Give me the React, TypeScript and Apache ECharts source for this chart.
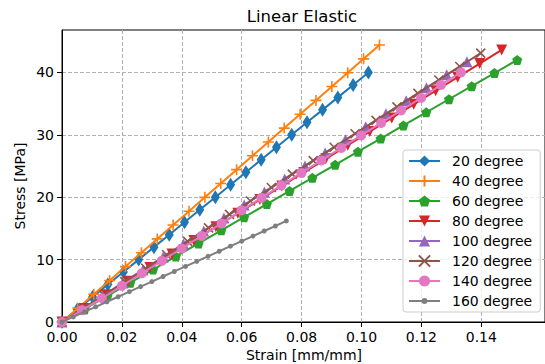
import React, { useEffect, useRef } from "react";
import * as echarts from "echarts";

const seriesNames = ["20 degree", "40 degree", "60 degree", "80 degree", "100 degree", "120 degree", "140 degree", "160 degree"];
const colors = ["#1f77b4", "#ff7f0e", "#2ca02c", "#d62728", "#9467bd", "#8c564b", "#e377c2", "#7f7f7f"];

const strain20 = [0, 0.0051, 0.0102, 0.0153, 0.0205, 0.0256, 0.0307, 0.0358, 0.0409, 0.046, 0.0512, 0.0563, 0.0614, 0.0665, 0.0716, 0.0767, 0.0818, 0.087, 0.0921, 0.0972, 0.1023];
const stress20 = [0, 2, 4, 6, 8, 10, 12, 14, 16, 18, 20, 22, 24, 26, 28, 30, 32, 34, 36, 38, 40];

const strain40 = [0, 0.0053, 0.0106, 0.0159, 0.0212, 0.0265, 0.0318, 0.0371, 0.0424, 0.0477, 0.053, 0.0583, 0.0636, 0.0689, 0.0742, 0.0795, 0.0848, 0.0901, 0.0954, 0.1007, 0.106];
const stress40 = [0, 2.22, 4.44, 6.66, 8.88, 11.1, 13.32, 15.54, 17.76, 19.98, 22.2, 24.42, 26.64, 28.86, 31.08, 33.3, 35.52, 37.74, 39.96, 42.18, 44.4];

const strain60 = [0, 0.0076, 0.0152, 0.0228, 0.0304, 0.038, 0.0456, 0.0532, 0.0608, 0.0684, 0.076, 0.0836, 0.0912, 0.0988, 0.1064, 0.114, 0.1216, 0.1292, 0.1368, 0.1444, 0.152];
const stress60 = [0, 2.1, 4.2, 6.3, 8.4, 10.5, 12.6, 14.7, 16.8, 18.9, 21, 23.1, 25.2, 27.3, 29.4, 31.5, 33.6, 35.7, 37.8, 39.9, 42];

const strain80 = [0, 0.00734, 0.01468, 0.02202, 0.02936, 0.0367, 0.04404, 0.05138, 0.05872, 0.06606, 0.0734, 0.08074, 0.08808, 0.09542, 0.10276, 0.1101, 0.11744, 0.12478, 0.13212, 0.13946, 0.1468];
const stress80 = [0, 2.18, 4.36, 6.54, 8.72, 10.9, 13.08, 15.26, 17.44, 19.62, 21.8, 23.98, 26.16, 28.34, 30.52, 32.7, 34.88, 37.06, 39.24, 41.42, 43.6];

const strain100 = [0, 0.00676, 0.01352, 0.02028, 0.02704, 0.0338, 0.04056, 0.04732, 0.05408, 0.06084, 0.0676, 0.07436, 0.08112, 0.08788, 0.09464, 0.1014, 0.10816, 0.11492, 0.12168, 0.12844, 0.1352];
const stress100 = [0, 2.085, 4.17, 6.255, 8.34, 10.425, 12.51, 14.595, 16.68, 18.765, 20.85, 22.935, 25.02, 27.105, 29.19, 31.275, 33.36, 35.445, 37.53, 39.615, 41.7];

const strain120 = [0, 0.00699, 0.01398, 0.02097, 0.02796, 0.03495, 0.04194, 0.04893, 0.05592, 0.06291, 0.0699, 0.07689, 0.08388, 0.09087, 0.09786, 0.10485, 0.11184, 0.11883, 0.12582, 0.13281, 0.1398];
const stress120 = [0, 2.155, 4.31, 6.465, 8.62, 10.775, 12.93, 15.085, 17.24, 19.395, 21.55, 23.705, 25.86, 28.015, 30.17, 32.325, 34.48, 36.635, 38.79, 40.945, 43.1];

const strain140 = [0, 0.00666, 0.01332, 0.01998, 0.02664, 0.0333, 0.03996, 0.04662, 0.05328, 0.05994, 0.0666, 0.07326, 0.07992, 0.08658, 0.09324, 0.0999, 0.10656, 0.11322, 0.11988, 0.12654, 0.1332];
const stress140 = [0, 1.9, 3.8, 5.8, 7.8, 9.8, 11.8, 13.8, 15.8, 17.9, 19.9, 21.9, 23.9, 25.9, 27.9, 29.9, 31.9, 33.9, 35.9, 38, 40];

const strain160 = [0, 0.00375, 0.0075, 0.01125, 0.015, 0.01875, 0.0225, 0.02625, 0.03, 0.03375, 0.0375, 0.04125, 0.045, 0.04875, 0.0525, 0.05625, 0.06, 0.06375, 0.0675, 0.07125, 0.0749];
const stress160 = [0, 0.81, 1.62, 2.43, 3.24, 4.05, 4.86, 5.67, 6.48, 7.29, 8.1, 8.91, 9.72, 10.53, 11.34, 12.15, 12.96, 13.77, 14.58, 15.39, 16.2];

const xTicks = [0, 0.02, 0.04, 0.06, 0.08, 0.1, 0.12, 0.14];
const yTicks = [0, 10, 20, 30, 40];

const titleText = "Linear Elastic";
const xLabel = "Strain [mm/mm]";
const yLabel = "Stress [MPa]";

const FONT = "DejaVu Sans";

const strains = [strain20, strain40, strain60, strain80, strain100, strain120, strain140, strain160];
const stresses = [stress20, stress40, stress60, stress80, stress100, stress120, stress140, stress160];

const pentagon = "path://M10,0L19.51,6.91L15.88,18.09L4.12,18.09L0.49,6.91Z";
const symbols: any[] = [
  { symbol: "diamond", size: [9, 14], stroke: false },
  { symbol: "path://M5,0L5,10M0,5L10,5", size: 11, stroke: true },
  { symbol: pentagon, size: [10, 10], stroke: false },
  { symbol: "path://M0,0L10,0L5,10Z", size: 11, stroke: false },
  { symbol: "triangle", size: 11, stroke: false },
  { symbol: "path://M0,0L10,10M10,0L0,10", size: 9, stroke: true },
  { symbol: "circle", size: 10, stroke: false },
  { symbol: "circle", size: 5, stroke: false },
];

// legend icon for the small-dot series: a line with a small dot (bbox 31x14)
const smallDotLegendIcon =
  "path://M0,0M31,14M0,6L31,6L31,8L0,8Z M18.5,7A3,3,0,1,1,12.5,7A3,3,0,1,1,18.5,7Z";

export default function App() {
  const ref = useRef<HTMLDivElement>(null);
  useEffect(() => {
    if (!ref.current) return;
    const chart = echarts.init(ref.current, undefined, { renderer: "svg" });
    const series = seriesNames.map((name, i) => ({
      name,
      type: "line",
      data: strains[i].map((x, j) => [x, stresses[i][j]]),
      symbol: symbols[i].symbol,
      symbolSize: symbols[i].size,
      showAllSymbol: true,
      lineStyle: { color: colors[i], width: 2 },
      itemStyle: symbols[i].stroke
        ? { color: colors[i], borderColor: colors[i], borderWidth: 1.6 }
        : { color: colors[i], borderWidth: 0 },
      emphasis: { disabled: true },
      z: 2 + i * 0.01,
    }));
    const legendData = seriesNames.map((name, i) =>
      i === 7 ? { name, icon: smallDotLegendIcon, itemStyle: { color: colors[i], borderWidth: 0 } } : { name }
    );
    chart.setOption({
      animation: false,
      color: colors,
      grid: {
        left: 62,
        right: -10,
        top: 30,
        bottom: 42,
        show: true,
        borderColor: "#000",
        borderWidth: 1,
        backgroundColor: "transparent",
      },
      xAxis: {
        type: "value",
        min: 0,
        max: 0.16127,
        interval: 0.02,
        axisLine: { show: true, lineStyle: { color: "#000", width: 1 } },
        axisTick: { show: true, inside: false, length: 5, lineStyle: { color: "#000" }, customValues: xTicks },
        axisLabel: {
          customValues: xTicks,
          formatter: (v: number) => v.toFixed(2),
          color: "#000",
          fontSize: 14,
          fontFamily: FONT,
          margin: 8,
        },
        splitLine: { show: true, lineStyle: { color: "#b0b0b0", width: 1, type: [4, 2] } },
      },
      yAxis: {
        type: "value",
        min: 0,
        max: 46.8,
        interval: 10,
        axisLine: { show: true, lineStyle: { color: "#000", width: 1 } },
        axisTick: { show: true, inside: false, length: 5, lineStyle: { color: "#000" }, customValues: yTicks },
        axisLabel: {
          customValues: yTicks,
          color: "#000",
          fontSize: 14,
          fontFamily: FONT,
          margin: 8,
        },
        splitLine: { show: true, lineStyle: { color: "#b0b0b0", width: 1, type: [4, 2] } },
      },
      legend: {
        orient: "vertical",
        left: 403,
        top: 150,
        data: legendData,
        itemWidth: 31,
        itemHeight: 14,
        itemGap: 6,
        padding: [4, 8, 4, 5],
        backgroundColor: "rgba(255,255,255,0.8)",
        borderColor: "#cccccc",
        borderWidth: 1,
        borderRadius: 3,
        textStyle: { color: "#000", fontSize: 14, fontFamily: FONT, padding: [0, 0, 0, 7] },
        selectedMode: false,
      },
      graphic: [
        {
          type: "text",
          x: 302,
          y: 16.5,
          style: { text: titleText, fill: "#000", font: `16.5px "${FONT}"`, textAlign: "center", textVerticalAlign: "middle" },
        },
        {
          type: "text",
          x: 304,
          y: 355,
          style: { text: xLabel, fill: "#000", font: `14px "${FONT}"`, textAlign: "center", textVerticalAlign: "middle" },
        },
        {
          type: "text",
          x: 19.5,
          y: 186,
          rotation: Math.PI / 2,
          style: { text: yLabel, fill: "#000", font: `14px "${FONT}"`, textAlign: "center", textVerticalAlign: "middle" },
        },
      ],
      series,
    });
    return () => chart.dispose();
  }, []);
  return <div ref={ref} style={{ position: "absolute", left: 0, top: 0, width: 545, height: 364, background: "#fff" }} />;
}
